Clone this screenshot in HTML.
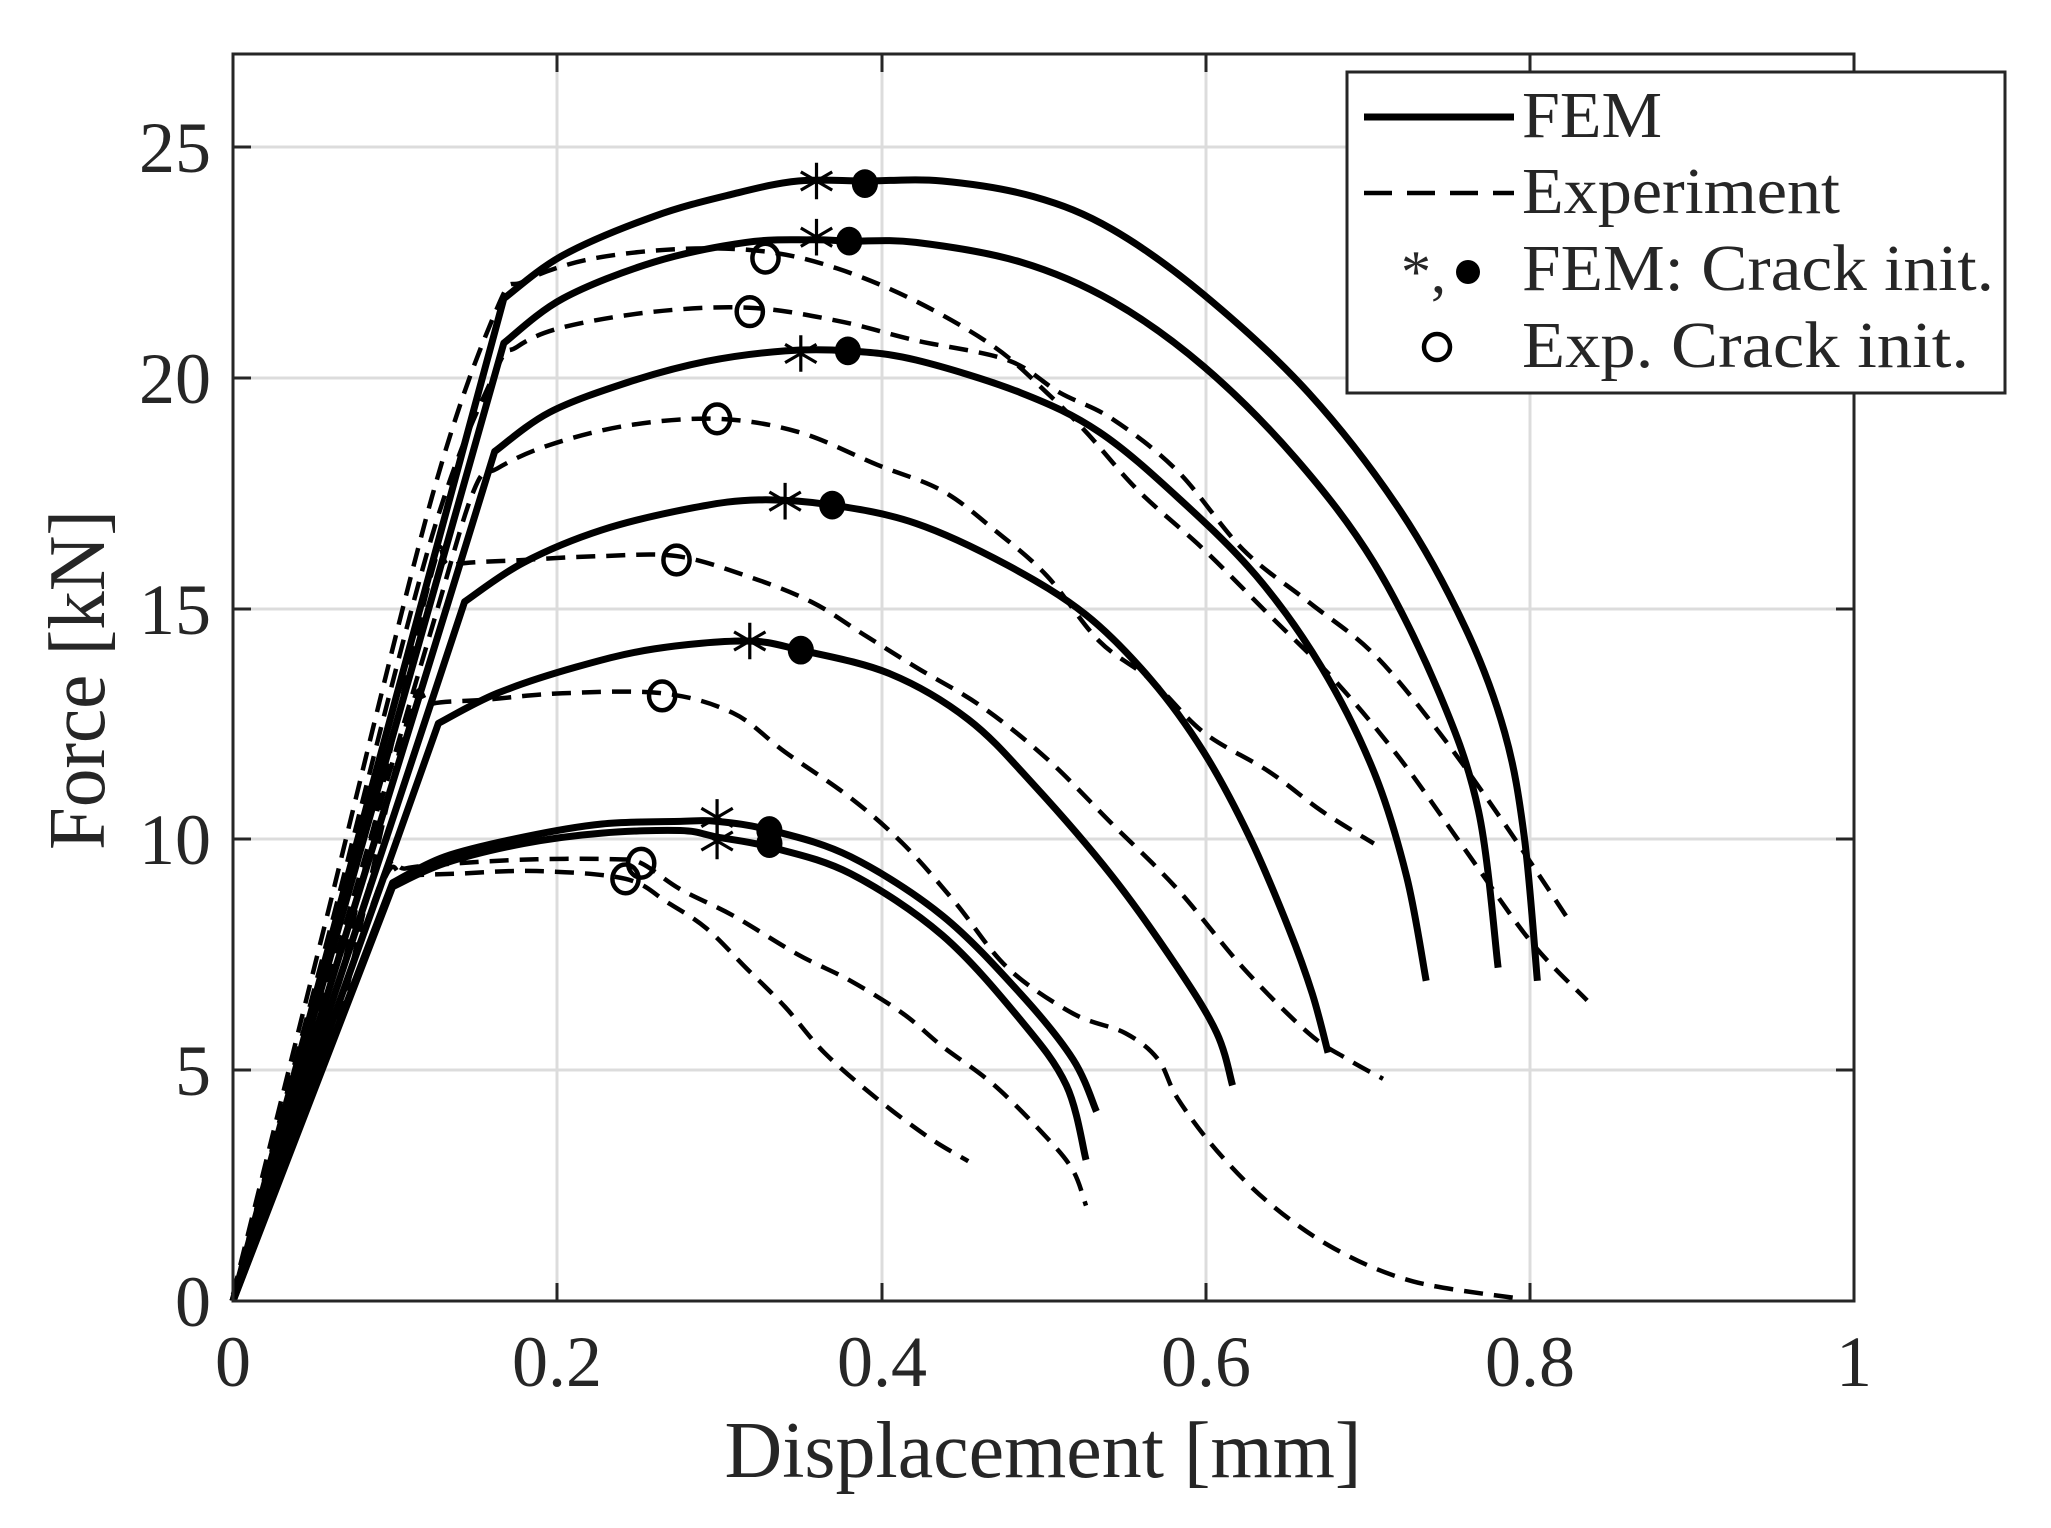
<!DOCTYPE html>
<html><head><meta charset="utf-8"><style>
html,body{margin:0;padding:0;background:#fff}
svg{display:block}
text{font-family:"Liberation Serif",serif;fill:#262626}
</style></head><body>
<svg width="2051" height="1528" viewBox="0 0 2051 1528" xmlns="http://www.w3.org/2000/svg">
<rect width="2051" height="1528" fill="#fff"/>
<g stroke="#dcdcdc" stroke-width="3">
<line x1="557" y1="54" x2="557" y2="1301"/><line x1="882" y1="54" x2="882" y2="1301"/>
<line x1="1206" y1="54" x2="1206" y2="1301"/><line x1="1530" y1="54" x2="1530" y2="1301"/>
<line x1="233" y1="1070" x2="1854" y2="1070"/><line x1="233" y1="839" x2="1854" y2="839"/>
<line x1="233" y1="609" x2="1854" y2="609"/><line x1="233" y1="378" x2="1854" y2="378"/>
<line x1="233" y1="147" x2="1854" y2="147"/>
</g>
<g stroke="#262626" stroke-width="3">
<line x1="557" y1="1301" x2="557" y2="1283"/><line x1="882" y1="1301" x2="882" y2="1283"/><line x1="1206" y1="1301" x2="1206" y2="1283"/><line x1="1530" y1="1301" x2="1530" y2="1283"/>
<line x1="557" y1="54" x2="557" y2="72"/><line x1="882" y1="54" x2="882" y2="72"/><line x1="1206" y1="54" x2="1206" y2="72"/><line x1="1530" y1="54" x2="1530" y2="72"/>
<line x1="233" y1="1070" x2="251" y2="1070"/><line x1="233" y1="839" x2="251" y2="839"/><line x1="233" y1="609" x2="251" y2="609"/><line x1="233" y1="378" x2="251" y2="378"/><line x1="233" y1="147" x2="251" y2="147"/>
<line x1="1854" y1="1070" x2="1836" y2="1070"/><line x1="1854" y1="839" x2="1836" y2="839"/><line x1="1854" y1="609" x2="1836" y2="609"/><line x1="1854" y1="378" x2="1836" y2="378"/><line x1="1854" y1="147" x2="1836" y2="147"/>
</g>

<g transform="translate(233,1301) scale(1.3083,1.3069) translate(-178,-995)" fill="none" stroke="#000" stroke-linejoin="round" stroke-linecap="butt">
<g stroke-width="4.5" stroke-dasharray="19 11">
<polyline class="s" vector-effect="non-scaling-stroke" points="178,990 250,700 330,380 380,235 400,215 450,198 520,190 585,192 640,205 700,230 760,265 800,300 830,330 870,375 920,420 970,470 1020,520 1070,580 1120,650 1170,720 1213,765"/>
<polyline class="s" vector-effect="non-scaling-stroke" points="178,992 255,700 330,410 378,285 395,265 430,250 500,238 573,235 640,245 700,260 770,275 810,300 850,320 900,360 950,420 1000,460 1050,500 1100,560 1150,630 1200,705"/>
<polyline class="s" vector-effect="non-scaling-stroke" points="178,993 260,720 330,480 362,375 380,358 420,340 480,325 548,320 610,330 670,355 720,375 760,405 800,440 840,490 880,520 920,560 970,590 1010,620 1050,645"/>
<polyline class="s" vector-effect="non-scaling-stroke" points="178,994 260,750 328,445 345,432 400,428 460,425 517,425 570,440 620,460 660,485 700,510 750,540 800,580 850,630 900,680 950,740 1000,790 1030,810 1057,825"/>
<polyline class="s" vector-effect="non-scaling-stroke" points="178,994 260,780 312,548 330,538 370,535 430,530 506,530 560,545 600,575 650,610 690,645 730,690 770,740 820,775 860,790 885,810 900,840 930,880 970,920 1020,955 1080,980 1160,993"/>
<polyline class="s" vector-effect="non-scaling-stroke" points="178,995 240,830 292,672 310,664 350,660 410,657 470,657 490,660 520,680 560,700 610,730 650,750 690,775 720,800 760,830 800,870 820,895 830,922"/>
<polyline class="s" vector-effect="non-scaling-stroke" points="178,995 240,830 292,676 310,670 350,668 410,666 478,672 510,690 540,710 570,740 600,770 630,805 670,840 710,870 740,888"/>
</g>
<g stroke-width="7">
<polyline class="s" vector-effect="non-scaling-stroke" points="178,995 385,228 430,195 500,165 560,148 610,138 662,138 720,138 790,150 850,175 920,225 1000,300 1070,390 1120,480 1150,560 1165,640 1175,750"/>
<polyline class="s" vector-effect="non-scaling-stroke" points="178,995 385,262 430,228 500,200 570,185 620,183 650,184 700,185 780,200 850,230 920,280 990,350 1050,430 1100,530 1130,620 1145,740"/>
<polyline class="s" vector-effect="non-scaling-stroke" points="178,995 378,345 420,315 480,292 540,276 600,268 648,268 700,275 780,300 840,330 900,380 960,440 1010,510 1050,590 1075,670 1090,750"/>
<polyline class="s" vector-effect="non-scaling-stroke" points="178,995 355,460 400,430 460,405 530,388 580,382 636,386 700,400 770,432 830,470 880,520 920,575 955,640 985,710 1003,760 1015,805"/>
<polyline class="s" vector-effect="non-scaling-stroke" points="178,995 335,553 380,530 440,510 500,496 570,490 612,497 680,515 740,550 790,600 850,670 900,740 930,790 942,830"/>
<polyline class="s" vector-effect="non-scaling-stroke" points="178,995 300,675 340,655 400,640 460,630 520,628 548,628 590,635 650,655 720,700 780,760 820,810 838,850"/>
<polyline class="s" vector-effect="non-scaling-stroke" points="178,995 300,678 340,660 400,645 460,637 520,635 548,640 590,648 650,668 720,715 780,780 815,830 830,887"/>
</g>
<g fill="#000" stroke="none">
<ellipse cx="661" cy="140" rx="10" ry="11"/><ellipse cx="649" cy="184" rx="10" ry="11"/><ellipse cx="648" cy="268" rx="10" ry="11"/>
<ellipse cx="636" cy="386" rx="10" ry="11"/><ellipse cx="612" cy="497" rx="10" ry="11"/><ellipse cx="588" cy="635" rx="10" ry="11"/><ellipse cx="588" cy="645" rx="10" ry="11"/>
</g>
<g stroke-width="4.5">
<ellipse vector-effect="non-scaling-stroke" cx="585" cy="197" rx="10" ry="11"/><ellipse vector-effect="non-scaling-stroke" cx="573" cy="238" rx="10" ry="11"/>
<ellipse vector-effect="non-scaling-stroke" cx="548" cy="320" rx="10" ry="11"/><ellipse vector-effect="non-scaling-stroke" cx="517" cy="428" rx="10" ry="11"/>
<ellipse vector-effect="non-scaling-stroke" cx="506" cy="532" rx="10" ry="11"/><ellipse vector-effect="non-scaling-stroke" cx="490" cy="660" rx="10" ry="11"/>
<ellipse vector-effect="non-scaling-stroke" cx="478" cy="672" rx="10" ry="11"/>
</g>
<g stroke-width="3.2">
<path vector-effect="non-scaling-stroke" d="M624,124v28M612,131l24,14M612,145l24,-14"/>
<path vector-effect="non-scaling-stroke" d="M624,167v28M612,174l24,14M612,188l24,-14"/>
<path vector-effect="non-scaling-stroke" d="M612,256v28M600,263l24,14M600,277l24,-14"/>
<path vector-effect="non-scaling-stroke" d="M600,369v28M588,376l24,14M588,390l24,-14"/>
<path vector-effect="non-scaling-stroke" d="M573,476v28M561,483l24,14M561,497l24,-14"/>
<path vector-effect="non-scaling-stroke" d="M548,611v28M536,618l24,14M536,632l24,-14"/>
<path vector-effect="non-scaling-stroke" d="M548,629v28M536,636l24,14M536,650l24,-14"/>
</g>
</g>

<rect x="233" y="54" width="1621" height="1247" fill="none" stroke="#262626" stroke-width="3"/>

<g font-size="72" text-anchor="middle">
<text x="233" y="1386">0</text><text x="557" y="1386">0.2</text><text x="882" y="1386">0.4</text>
<text x="1206" y="1386">0.6</text><text x="1530" y="1386">0.8</text><text x="1854" y="1386">1</text>
</g>
<g font-size="72" text-anchor="end">
<text x="211" y="1326">0</text><text x="211" y="1095">5</text><text x="211" y="864">10</text>
<text x="211" y="634">15</text><text x="211" y="403">20</text><text x="211" y="172">25</text>
</g>
<text x="1043" y="1477" font-size="80" text-anchor="middle" textLength="637" lengthAdjust="spacingAndGlyphs">Displacement [mm]</text>
<text transform="translate(104,680) rotate(-90)" font-size="80" text-anchor="middle" textLength="340" lengthAdjust="spacingAndGlyphs">Force [kN]</text>

<rect x="1347" y="72" width="658" height="321" fill="#fff" stroke="#262626" stroke-width="3"/>
<line x1="1364" y1="117" x2="1514" y2="117" stroke="#000" stroke-width="7"/>
<line x1="1364" y1="193" x2="1514" y2="193" stroke="#000" stroke-width="4.5" stroke-dasharray="28 15"/>
<text x="1401" y="292" font-size="60" fill="#000">*,</text>
<circle cx="1468" cy="272" r="12" fill="#000"/>
<circle cx="1437" cy="347" r="13" fill="none" stroke="#000" stroke-width="4.5"/>
<g font-size="66">
<text x="1522" y="137" textLength="140" lengthAdjust="spacingAndGlyphs">FEM</text>
<text x="1522" y="213" textLength="318" lengthAdjust="spacingAndGlyphs">Experiment</text>
<text x="1522" y="290" textLength="472" lengthAdjust="spacingAndGlyphs">FEM: Crack init.</text>
<text x="1522" y="367" textLength="447" lengthAdjust="spacingAndGlyphs">Exp. Crack init.</text>
</g>
</svg>
<script>
document.querySelectorAll('polyline.s').forEach(function(pl){
  var a=pl.getAttribute('points').trim().split(/\s+/).map(function(s){var q=s.split(',');return [+q[0],+q[1]];});
  var d='M'+a[0][0]+','+a[0][1]+' L'+a[1][0]+','+a[1][1];
  for(var i=1;i<a.length-1;i++){
    var p0=a[i-1],p1=a[i],p2=a[i+1],p3=a[Math.min(i+2,a.length-1)];
    if(i==1)p0=p1;
    var c1=[p1[0]+(p2[0]-p0[0])/6,p1[1]+(p2[1]-p0[1])/6];
    var c2=[p2[0]-(p3[0]-p1[0])/6,p2[1]-(p3[1]-p1[1])/6];
    d+=' C'+c1[0]+','+c1[1]+' '+c2[0]+','+c2[1]+' '+p2[0]+','+p2[1];
  }
  var p=document.createElementNS('http://www.w3.org/2000/svg','path');
  p.setAttribute('d',d);
  p.setAttribute('vector-effect','non-scaling-stroke');
  pl.parentNode.replaceChild(p,pl);
});
</script>
</body></html>
